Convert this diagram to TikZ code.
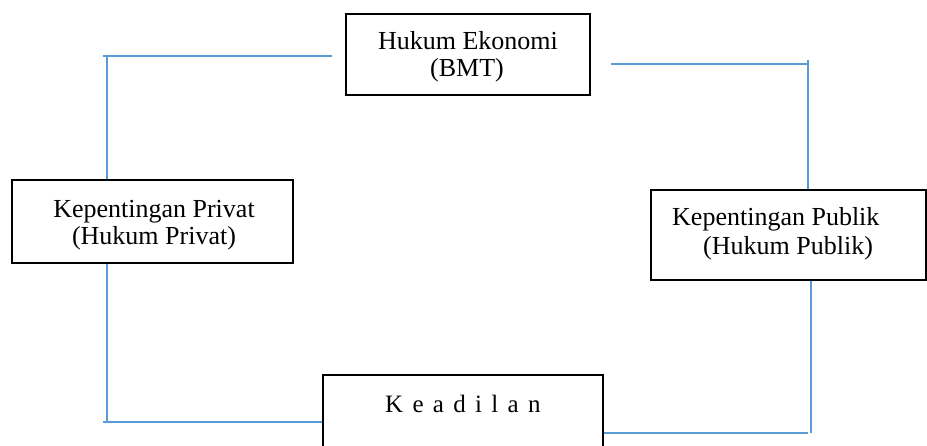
\documentclass[tikz,border=0pt]{standalone}
\usepackage{fontspec}
\setmainfont{Liberation Serif}
\definecolor{linkblue}{HTML}{5B9BD5}
\begin{document}
\begin{tikzpicture}[x=1pt,y=-1pt,
  box/.style={draw=black,line width=1.5pt,inner sep=0pt,anchor=north west},
  link/.style={draw=linkblue,line width=2.4pt},
  txt/.style={inner sep=0pt,font=\fontsize{26}{27}\selectfont},
  ktxt/.style={inner sep=0pt,font=\fontsize{25}{27}\selectfont}]
\useasboundingbox (0,0) rectangle (927,445);
\clip (0,0) rectangle (927,445);
% boxes
\node[box,minimum width=244pt,minimum height=81pt] (hk) at (345,13) {};
\node[box,minimum width=281pt,minimum height=83pt] (pr) at (11,179) {};
\node[box,minimum width=275pt,minimum height=90pt] (pb) at (650,189) {};
\node[box,minimum width=280pt,minimum height=90pt] (kd) at (322,374) {};
% texts
\node[txt,anchor=base] (hk1) at (468,49) {Hukum Ekonomi};
\node[txt,anchor=base] (hk2) at (467,76) {(BMT)};
\node[txt,anchor=base] (pr1) at (154,217) {Kepentingan Privat};
\node[txt,anchor=base] (pr2) at (154,244) {(Hukum Privat)};
\node[txt,anchor=base west] (pb1) at (672,225) {Kepentingan Publik};
\node[txt,anchor=base west] (pb2) at (703,254) {(Hukum Publik)};
\node[ktxt,anchor=base west] (kd1) at (385,412) {K\hspace{9.3pt}e\hspace{9.3pt}a\hspace{9.3pt}d\hspace{9.3pt}i\hspace{9.3pt}l\hspace{9.3pt}a\hspace{9.3pt}n};
% connector coordinates
\coordinate (a1) at (332,56);
\coordinate (a2) at (103,56);
\coordinate (a3) at (107,56);
\coordinate (c1) at (611,64);
\coordinate (c2) at (808,64);
\coordinate (c3) at (808,60);
\coordinate (b1) at (107,422);
\coordinate (b2) at (103,422);
\coordinate (d1) at (811,433);
\coordinate (d2) at (808,433);
% connectors
\draw[link] (a1) -- (a2);
\draw[link] (a3) -- (a3 |- pr.north);
\draw[link] (c1) -- (c2);
\draw[link] (c3) -- (c3 |- pb.north);
\draw[link] (b1 |- pr.south) -- (b1);
\draw[link] (b2) -- (kd.west |- b2);
\draw[link] (d1 |- pb.south) -- (d1);
\draw[link] (kd.east |- d2) -- (d2);
\end{tikzpicture}
\end{document}
